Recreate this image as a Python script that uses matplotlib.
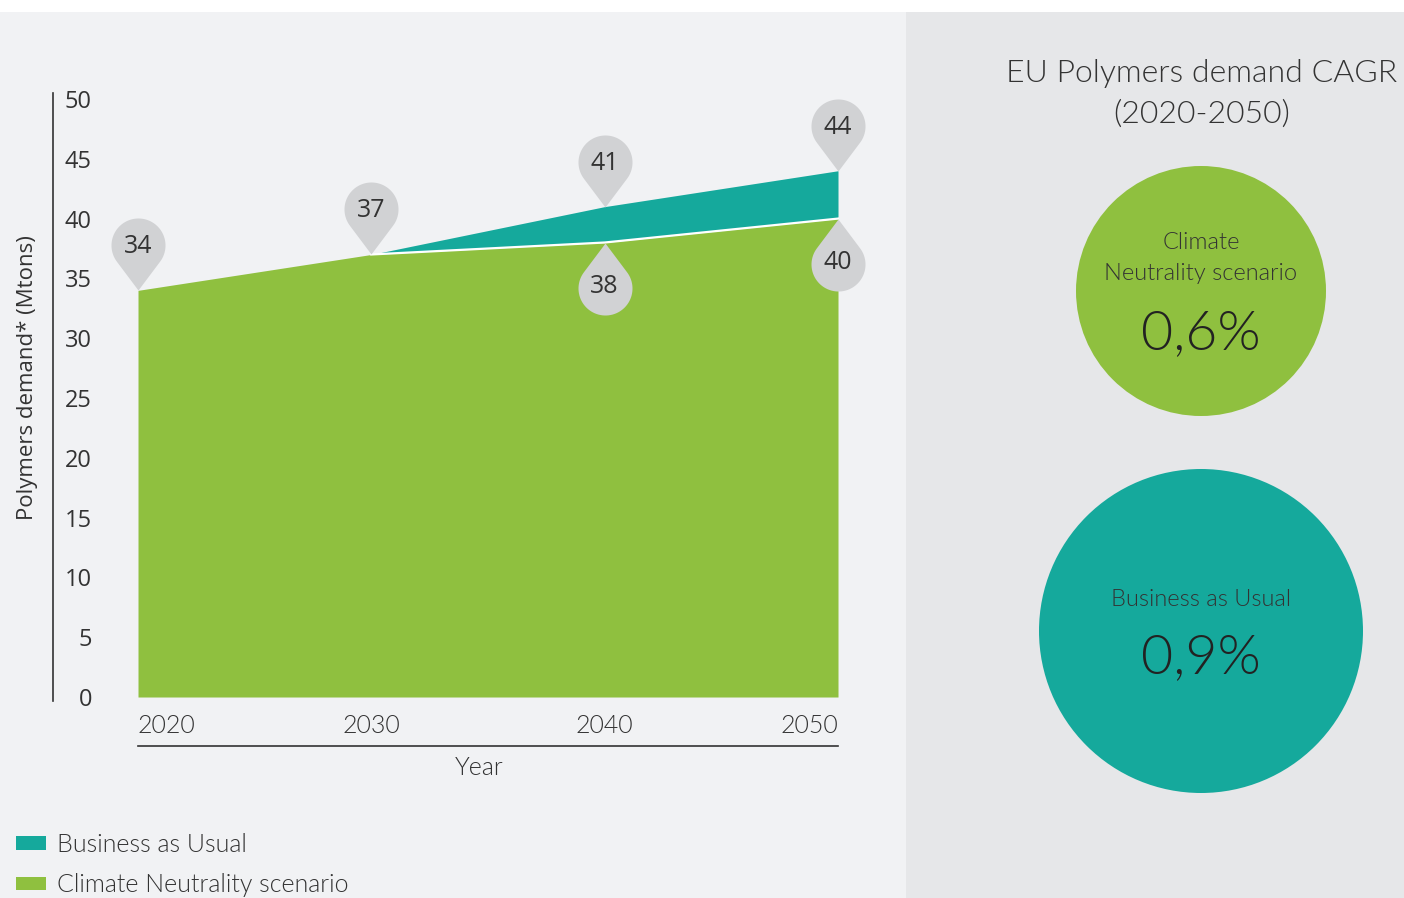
import numpy as np
import matplotlib
matplotlib.use("Agg")
import matplotlib.pyplot as plt
from matplotlib.path import Path
from matplotlib.patches import Rectangle, Circle

# polymers demand, Mtons
years = [2020, 2030, 2040, 2050]
bau = [34, 37, 41, 44]        # Business as Usual
cn = [34, 37, 38, 40]         # Climate Neutrality scenario
series_names = ["Business as Usual", "Climate Neutrality scenario"]

# CAGR 2020-2050
cagr_labels = ["Climate\nNeutrality scenario", "Business as Usual"]
cagr_values = ["0,6%", "0,9%"]

GREEN = "#8fc03f"
TEAL = "#15a99c"
PIN = "#d1d2d4"
TXT = "#333333"
GILL = dict(family="Lato", fontweight=300)
SEGOE = dict(family="Open Sans")

W, H = 1404, 898
fig = plt.figure(figsize=(W / 100, H / 100), dpi=100, facecolor="white")

# background panels, drawn in pixel coordinates
bg = fig.add_axes([0, 0, 1, 1], zorder=0)
bg.set_xlim(0, W)
bg.set_ylim(H, 0)
bg.axis("off")
bg.add_patch(Rectangle((0, 12), 906, H - 12, color="#f1f2f4", lw=0))
bg.add_patch(Rectangle((906, 12), W - 906, H - 12, color="#e6e7e9", lw=0))

# main area chart
ax = fig.add_axes([53 / W, 1 - 700.6 / H, 817 / W, 607.6 / H], zorder=1)
ax.patch.set_alpha(0)
ax.set_xlim(2016.357, 2051.371)
ax.set_ylim(-0.3, 50.5)

fill_cn = ax.fill_between(years, 0, cn, color=GREEN, lw=0, zorder=2)
fill_bau = ax.fill_between(years, cn, bau, color=TEAL, lw=0, zorder=2)
# white separator along the CN edge from where the scenarios start to diverge
first = max(0, [i for i in range(len(years)) if bau[i] != cn[i]][0] - 1)
ax.plot(years[first:], cn[first:], color="white", lw=1.6, zorder=3)

for s in ["top", "right", "bottom"]:
    ax.spines[s].set_visible(False)
ax.spines["left"].set_color("#333333")
ax.spines["left"].set_linewidth(1.2)

ax.set_yticks(range(0, 51, 5))
ax.tick_params(axis="y", length=0, pad=-28, labelsize=17, labelcolor=TXT)
for lab in ax.get_yticklabels():
    lab.set_fontfamily("Open Sans")
    lab.set_horizontalalignment("right")
    lab.set_verticalalignment("center_baseline")

ax.set_xticks(years)
ax.set_xticklabels([str(y) for y in years])
ax.tick_params(axis="x", length=0, pad=10, labelsize=18, labelcolor=TXT)
xl = ax.get_xticklabels()
for lab in xl:
    lab.set_fontfamily("Lato")
    lab.set_fontweight(300)
xl[0].set_horizontalalignment("left")
xl[-1].set_horizontalalignment("right")

# x axis rule under the year labels
ax.plot([years[0], years[-1]], [-0.075, -0.075], color="#333333", lw=1.2,
        transform=ax.get_xaxis_transform(), clip_on=False)


def pin_path(r=27.0, d=45.0, flip=False):
    L = np.sqrt(d * d - r * r)
    px, py = L * r / d, L * L / d
    phi = np.arctan2(py - d, px)
    ang = np.linspace(phi, np.pi - phi, 60)
    verts = [(0, 0)] + [(r * np.cos(a), d + r * np.sin(a)) for a in ang] + [(0, 0)]
    verts = np.array(verts)
    if flip:
        verts[:, 1] *= -1
    codes = [Path.MOVETO] + [Path.LINETO] * (len(verts) - 2) + [Path.CLOSEPOLY]
    return Path(verts, codes)


pin_ms = 2 * 72 * 0.72
off = 45 * 0.72
ax.plot(years, bau, ls="none", marker=pin_path(), ms=pin_ms, mfc=PIN, mec="none",
        clip_on=False, zorder=5)
for x, v in zip(years, bau):
    ax.annotate(str(v), (x, v), xytext=(0, off - 1), textcoords="offset points",
                ha="center", va="center", fontsize=18, color=TXT, zorder=6,
                annotation_clip=False, **SEGOE)

low = [i for i in range(len(years)) if cn[i] != bau[i]]
ax.plot([years[i] for i in low], [cn[i] for i in low], ls="none",
        marker=pin_path(flip=True), ms=pin_ms, mfc=PIN, mec="none",
        clip_on=False, zorder=5)
for i in low:
    ax.annotate(str(cn[i]), (years[i], cn[i]), xytext=(0, -off + 1),
                textcoords="offset points", ha="center", va="center",
                fontsize=18, color=TXT, zorder=6, annotation_clip=False, **SEGOE)

fig.text(479 / W, 1 - 768 / H, "Year", ha="center", va="center",
         fontsize=18, color=TXT, **GILL)
fig.text(28 / W, 1 - 378 / H, "Polymers demand* (Mtons)", rotation=90,
         ha="center", va="center", fontsize=16, color=TXT, **SEGOE)

leg = fig.legend([fill_bau, fill_cn], series_names, loc="upper left",
                 bbox_to_anchor=(16 / W, 1 - 833 / H), frameon=False,
                 borderpad=0, borderaxespad=0,
                 handlelength=1.2, handleheight=0.45, handletextpad=0.45,
                 labelspacing=0.65, prop=dict(family="Lato", weight=300, size=18))
for t in leg.get_texts():
    t.set_color(TXT)

# CAGR panel
bg.text(1202, 94, "EU Polymers demand CAGR\n(2020-2050)", ha="center", va="center",
        fontsize=23, color=TXT, linespacing=1.5, **GILL)

circles = [((1201, 291), 125, GREEN), ((1201, 631), 162, TEAL)]
label_y = [258, 599]
value_y = [334, 658]
for (c, r, col), lab, val, ly, vy in zip(circles, cagr_labels, cagr_values, label_y, value_y):
    bg.add_patch(Circle(c, r, color=col, lw=0))
    bg.text(c[0], ly, lab, ha="center", va="center", fontsize=17, color=TXT,
            linespacing=1.6, **GILL)
    bg.text(c[0], vy, val, ha="center", va="center", fontsize=40, color="#222222",
            **GILL)

fig.savefig("out.png", dpi=100, facecolor=fig.get_facecolor())
